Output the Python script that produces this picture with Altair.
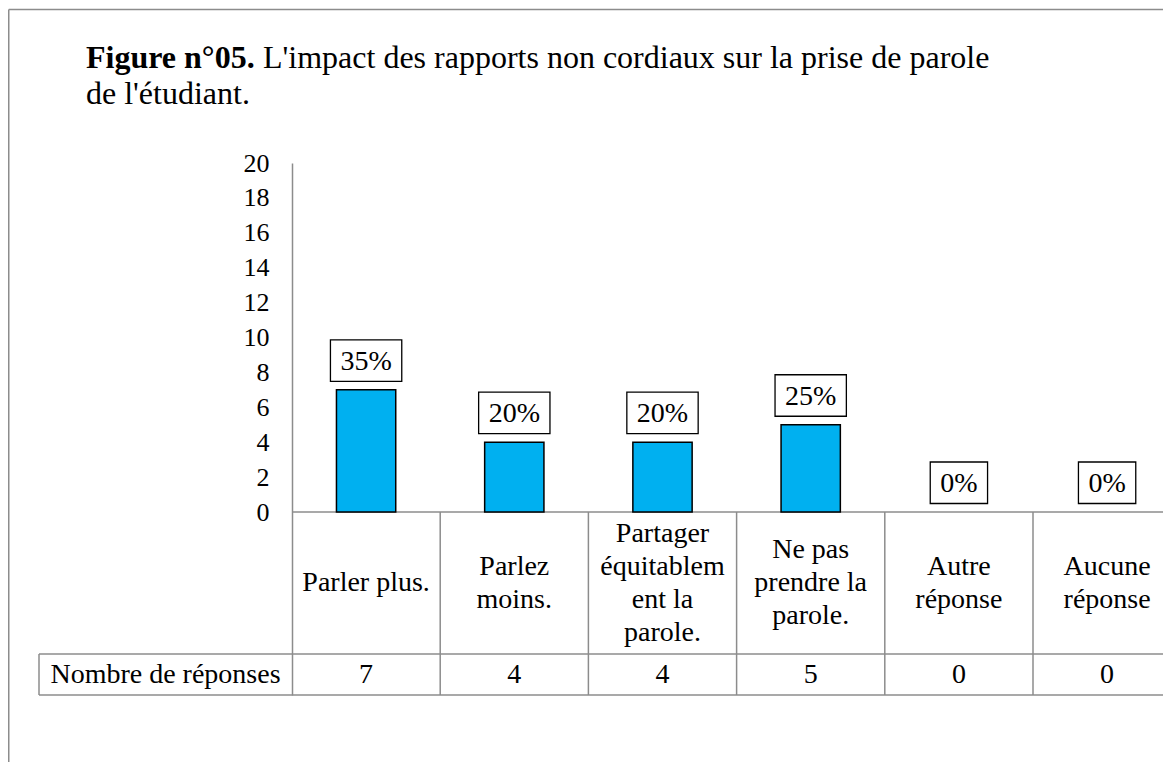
import altair as alt
import pandas as pd

# ---- data ----
category_lines = [
    "Parler plus.",
    "Parlez\nmoins.",
    "Partager\néquitablem\nent la\nparole.",
    "Ne pas\nprendre la\nparole.",
    "Autre\nréponse",
    "Aucune\nréponse",
]
counts = [7, 4, 4, 5, 0, 0]
percent_labels = ["35%", "20%", "20%", "25%", "0%", "0%"]
y_ticks = [0, 2, 4, 6, 8, 10, 12, 14, 16, 18, 20]
row_label = "Nombre de réponses"
title_bold = "Figure n°05."
title_rest = "L'impact des rapports non cordiaux sur la prise de parole"
title_line2 = "de l'étudiant."

# ---- layout ----
FONT = "Liberation Serif"
GRAY = "#8c8c8c"
LABEL_SIZE = 28
TITLE_SIZE = 32
LINE_H = 33
COL_PX = 148.2          # width of one category column in px
W = 871                 # plot width
H = 532                 # plot height (axis top -> bottom of data table)
PXU = 349 / 20          # y px per unit
Y_MIN = -183 / PXU
HEADER_BOTTOM = -142 / PXU
X_MAX = W / COL_PX
ROW_LABEL_LEFT = -253 / COL_PX


def px_x(p):
    return p / COL_PX


def px_y(p):  # p = px above the top of the plot
    return 20 + p / PXU


n = len(counts)
df = pd.DataFrame({
    "cat": category_lines,
    "idx": list(range(n)),
    "count": counts,
    "pct": percent_labels,
})
df["zero"] = 0
df["xc"] = df["idx"] + 0.5
df["bar_l"] = df["idx"] + 0.3
df["bar_r"] = df["idx"] + 0.7
# label box width: text width (digits 0.5em, % 0.833em) + padding
txt_w = (df["pct"].str.count(r"\d") * 0.5 + 0.833) * LABEL_SIZE
half = (txt_w + 20) / 2 / COL_PX
df["box_l"] = df["xc"] - half
df["box_r"] = df["xc"] + half
df["count_txt"] = df["count"].astype(str)
# first line position so that the whole wrapped block is centred in its cell
n_lines = df["cat"].str.count("\n") + 1
df["header_y"] = HEADER_BOTTOM / 2 + (n_lines - 1) * LINE_H / 2 / PXU
df["value_y"] = (HEADER_BOTTOM + Y_MIN) / 2

xs = alt.Scale(domain=[0, X_MAX], nice=False, zero=False)
ys = alt.Scale(domain=[Y_MIN, 20], nice=False, zero=False)
y_axis = alt.Axis(
    values=y_ticks, title=None, grid=False, ticks=False,
    labelFont=FONT, labelFontSize=26, labelColor="black",
    labelPadding=23, domainColor=GRAY, domainWidth=1.5,
    labelOverlap=False, labelFlush=False)


def X(f):
    return alt.X(f, scale=xs, axis=None)


def Y(f):
    return alt.Y(f, scale=ys, axis=y_axis)


base = alt.Chart(df)

bars = base.transform_filter("datum.count > 0").mark_bar(
    color="#00B0F0", stroke="black", strokeWidth=1.5
).encode(x=X("bar_l:Q"), x2="bar_r:Q", y=Y("count:Q"), y2="zero:Q")

boxes = base.mark_rect(
    fill="white", stroke="black", strokeWidth=1.3, yOffset=-8.5, y2Offset=-50
).encode(x=X("box_l:Q"), x2="box_r:Q", y=Y("count:Q"), y2="count:Q")

pct_text = base.mark_text(
    font=FONT, fontSize=LABEL_SIZE, color="black", baseline="middle",
    align="center", dy=-28
).encode(x=X("xc:Q"), y=Y("count:Q"), text="pct:N")

# table grid
h_lines = pd.DataFrame({
    "y": [0, HEADER_BOTTOM, Y_MIN],
    "x1": [0, ROW_LABEL_LEFT, ROW_LABEL_LEFT],
    "x2": [X_MAX, X_MAX, X_MAX],
})
v_lines = pd.DataFrame({
    "x": [1, 2, 3, 4, 5, ROW_LABEL_LEFT],
    "y1": [0, 0, 0, 0, 0, HEADER_BOTTOM],
    "y2": [Y_MIN] * 6,
})
hl = alt.Chart(h_lines).mark_rule(color=GRAY, strokeWidth=1.5).encode(
    x=X("x1:Q"), x2="x2:Q", y=Y("y:Q"))
vl = alt.Chart(v_lines).mark_rule(color=GRAY, strokeWidth=1.5).encode(
    x=X("x:Q"), y=Y("y1:Q"), y2="y2:Q")

cat_text = base.mark_text(
    font=FONT, fontSize=LABEL_SIZE, color="black", baseline="middle",
    align="center", lineBreak="\n", lineHeight=LINE_H
).encode(x=X("xc:Q"), y=Y("header_y:Q"), text="cat:N")
val_text = base.mark_text(
    font=FONT, fontSize=LABEL_SIZE, color="black", baseline="middle",
    align="center"
).encode(x=X("xc:Q"), y=Y("value_y:Q"), text="count_txt:N")
row_df = pd.DataFrame({"label": [row_label], "x": [ROW_LABEL_LEFT / 2],
                       "y": [(HEADER_BOTTOM + Y_MIN) / 2]})
row_text = alt.Chart(row_df).mark_text(
    font=FONT, fontSize=LABEL_SIZE, color="black", baseline="middle",
    align="center"
).encode(x=X("x:Q"), y=Y("y:Q"), text="label:N")

# title (bold lead-in + rest) and chart-area frame
title_df = pd.DataFrame({
    "t": [title_bold, title_rest, title_line2],
    "x": [px_x(-206), px_x(-29), px_x(-206)],
    "y": [px_y(95), px_y(95), px_y(59)],
    "w": ["bold", "normal", "normal"],
})
t_bold = alt.Chart(title_df).transform_filter("datum.w == 'bold'").mark_text(
    font=FONT, fontSize=TITLE_SIZE, fontWeight="bold", align="left",
    baseline="alphabetic", color="black"
).encode(x=X("x:Q"), y=Y("y:Q"), text="t:N")
t_norm = alt.Chart(title_df).transform_filter("datum.w == 'normal'").mark_text(
    font=FONT, fontSize=TITLE_SIZE, align="left", baseline="alphabetic",
    color="black"
).encode(x=X("x:Q"), y=Y("y:Q"), text="t:N")

frame_df = pd.DataFrame({
    "x1": [px_x(-283.25), px_x(-283.25)],
    "x2": [X_MAX, px_x(-283.25)],
    "y1": [px_y(153.5), px_y(153.5)],
    "y2": [px_y(153.5), Y_MIN - 80 / PXU],
})
frame = alt.Chart(frame_df).mark_rule(color=GRAY, strokeWidth=1.5).encode(
    x=X("x1:Q"), x2="x2:Q", y=Y("y1:Q"), y2="y2:Q")

chart = alt.layer(
    frame, hl, vl, bars, boxes, pct_text,
    cat_text, val_text, row_text, t_bold, t_norm
).properties(
    width=W, height=H,
    padding={"left": 284, "top": 155, "right": 0, "bottom": 67},
    autosize=alt.AutoSizeParams(type="none"),
).configure_view(stroke=None)

chart.save("out.html", embed_options={"renderer": "svg", "actions": False})
